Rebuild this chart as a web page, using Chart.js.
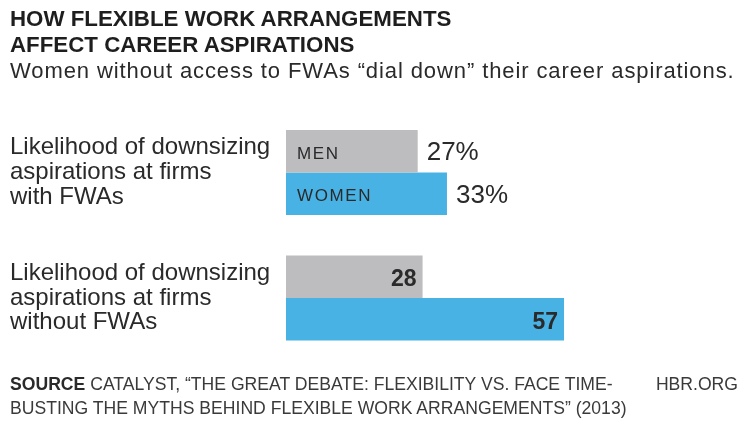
<!DOCTYPE html>
<html>
<head>
<meta charset="utf-8">
<script src="https://cdn.jsdelivr.net/npm/chart.js@4/dist/chart.umd.min.js"></script>
<style>
  html, body { margin: 0; padding: 0; background: #ffffff; }
  #page { position: relative; width: 742px; height: 428px; overflow: hidden; font-family: "Liberation Sans", Arial, sans-serif; color: #2a2a2a; }
  #chart { position: absolute; left: 0; top: 0; }
  .title { position: absolute; left: 10px; font-weight: bold; font-size: 22.3px; line-height: 26px; color: #1e1e1e; white-space: nowrap; }
  .subtitle { position: absolute; left: 10px; top: 58px; font-size: 22px; letter-spacing: 0.9px; line-height: 26px; color: #2a2a2a; white-space: nowrap; }
  .foot { position: absolute; left: 10px; font-size: 17.6px; line-height: 24px; color: #3a3a3a; white-space: nowrap; }
  .foot b { color: #2a2a2a; }
  .hbr { position: absolute; right: 4px; top: 372px; font-size: 17.6px; line-height: 24px; color: #3a3a3a; }
</style>
</head>
<body>
<div id="page">
  <canvas id="chart" width="742" height="428"></canvas>
  <div class="title" style="top:6px">HOW FLEXIBLE WORK ARRANGEMENTS</div>
  <div class="title" style="top:32px">AFFECT CAREER ASPIRATIONS</div>
  <div class="subtitle">Women without access to FWAs “dial down” their career aspirations.</div>
  <div class="foot" style="top:372px"><b>SOURCE</b> CATALYST, “THE GREAT DEBATE: FLEXIBILITY VS. FACE TIME-</div>
  <div class="foot" style="top:396px">BUSTING THE MYTHS BEHIND FLEXIBLE WORK ARRANGEMENTS” (2013)</div>
  <div class="hbr">HBR.ORG</div>
</div>
<script>
// Row labels (one per firm type), series names and values (percent)
const categories = [
  ["Likelihood of downsizing", "aspirations at firms", "with FWAs"],
  ["Likelihood of downsizing", "aspirations at firms", "without FWAs"]
];
const seriesNames = ["MEN", "WOMEN"];
const menValues = [27, 28];
const womenValues = [33, 57];

const GREY = "#bdbdbf";
const BLUE = "#49b2e4";
const TEXT = "#2a2a2a";

// Draws series names inside the first pair of bars and the values beside / inside each bar
const barLabels = {
  id: "barLabels",
  afterDatasetsDraw(chart) {
    const ctx = chart.ctx;
    ctx.save();
    chart.data.datasets.forEach((ds, di) => {
      const meta = chart.getDatasetMeta(di);
      meta.data.forEach((bar, i) => {
        const v = ds.data[i];
        ctx.fillStyle = TEXT;
        ctx.textBaseline = "middle";
        if (i === 0) {
          ctx.font = "17px 'Liberation Sans', Arial, sans-serif";
          ctx.letterSpacing = "1.6px";
          ctx.textAlign = "left";
          ctx.fillText(seriesNames[di], bar.base + 11, bar.y + 3);
          ctx.letterSpacing = "0px";
          ctx.font = "26px 'Liberation Sans', Arial, sans-serif";
          ctx.fillText(v + "%", bar.x + 9, bar.y + 2);
        } else {
          ctx.font = "bold 23px 'Liberation Sans', Arial, sans-serif";
          ctx.textAlign = "right";
          ctx.fillText(String(v), bar.x - 6, bar.y + 3);
        }
      });
    });
    ctx.restore();
  }
};

new Chart(document.getElementById("chart"), {
  type: "bar",
  data: {
    labels: categories,
    datasets: [
      { label: seriesNames[0], data: menValues, backgroundColor: GREY, categoryPercentage: 0.677, barPercentage: 1.0 },
      { label: seriesNames[1], data: womenValues, backgroundColor: BLUE, categoryPercentage: 0.677, barPercentage: 1.0 }
    ]
  },
  options: {
    indexAxis: "y",
    responsive: false,
    animation: false,
    devicePixelRatio: 1,
    layout: { padding: { left: 10, right: 17, top: 109.75, bottom: 67.25 } },
    scales: {
      x: { display: false, min: 0, max: 90 },
      y: {
        grid: { display: false },
        border: { display: false },
        afterFit(scale) { scale.width = 276; },
        ticks: {
          crossAlign: "far",
          padding: 0,
          color: TEXT,
          font: { family: "'Liberation Sans', Arial, sans-serif", size: 24, lineHeight: 1.03 }
        }
      }
    },
    plugins: {
      legend: { display: false },
      tooltip: { enabled: false },
      title: { display: false }
    }
  },
  plugins: [barLabels]
});
</script>
</body>
</html>
